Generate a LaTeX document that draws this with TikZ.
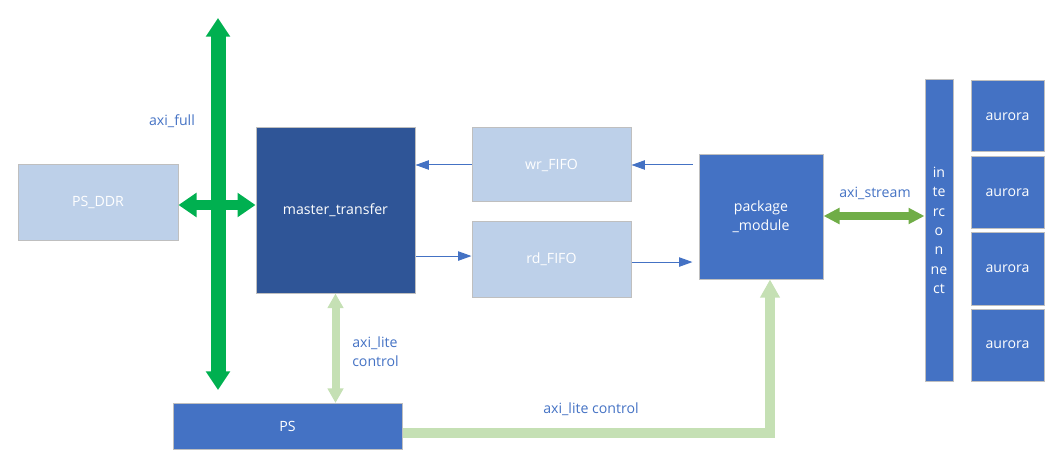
\documentclass[tikz,border=0pt]{standalone}
\usepackage{fontspec}
\setmainfont{Open Sans}
\usetikzlibrary{arrows.meta}
\definecolor{darkblue}{HTML}{2F5597}
\definecolor{midblue}{HTML}{4472C4}
\definecolor{paleblue}{HTML}{BDD0E9}
\definecolor{boxline}{HTML}{BFBFBF}
\definecolor{busgreen}{HTML}{00B050}
\definecolor{litegreen}{HTML}{C5E0B4}
\definecolor{streamgreen}{HTML}{70AD47}

\begin{document}
\begin{tikzpicture}[x=0.75pt, y=-0.75pt,
	blk/.style={draw=boxline, line width=0.75pt, inner sep=0pt, text=white, align=center,
		font=\fontsize{10.6pt}{14.5pt}\selectfont},
	lbl/.style={text=midblue, inner sep=0pt, align=left, font=\fontsize{10.6pt}{14.5pt}\selectfont},
	thin/.style={midblue, line width=0.75pt, -{Triangle[width=7pt, length=10pt]}}]
			\useasboundingbox (0,0) rectangle (1064,474);
			% blocks
			\node[blk, fill=paleblue, minimum width=120pt, minimum height=56.25pt](ddr) at (98,202.5){PS\_DDR};
			\node[blk, fill=darkblue, minimum width=119.25pt, minimum height=123.75pt](mt) at (335.5,210.5){master\_transfer};
			\node[blk, fill=paleblue, minimum width=119.25pt, minimum height=55.5pt](wr) at (551.5,165){wr\_FIFO};
			\node[blk, fill=paleblue, minimum width=119.25pt, minimum height=56.25pt](rd) at (551.5,259.5){rd\_FIFO};
			\node[blk, fill=midblue, minimum width=93pt, minimum height=93pt](pm) at (761,217){package\\\_module};
			\node[blk, fill=midblue, minimum width=21pt, minimum height=225.75pt](ic) at (939,230.5){in\\te\\rc\\o\\n\\ne\\ct};
			\node[blk, fill=midblue, minimum width=54.75pt, minimum height=53.25pt](au1) at (1007.5,116.5){aurora};
			\node[blk, fill=midblue, minimum width=54.75pt, minimum height=54pt](au2) at (1007.5,193){aurora};
			\node[blk, fill=midblue, minimum width=54.75pt, minimum height=54pt](au3) at (1007.5,269){aurora};
			\node[blk, fill=midblue, minimum width=54.75pt, minimum height=54pt](au4) at (1007.5,345){aurora};
			\node[blk, fill=midblue, minimum width=171.75pt, minimum height=34.5pt](ps) at (287.5,426.5){PS};
			% axi_full bus
			\coordinate (bustop) at (218,18);
			\coordinate (busbot) at (218,390);
			\coordinate (bus) at (218,205);
			\draw[busgreen, line width=11.25pt, {Triangle[width=17.5pt, length=14pt]}-{Triangle[width=17.5pt, length=14pt]}] (bustop) -- (busbot);
			\draw[busgreen, line width=7.5pt, {Triangle[width=17.5pt, length=13.5pt]}-{Triangle[width=17.5pt, length=13.5pt]}] (ddr.east |- bus) -- (mt.west |- bus);
			% fifo paths
			\draw[thin] (wr.west) -- (mt.east |- wr.west);
			\draw[thin, shorten <=4.5pt] (pm.west |- wr.east) -- (wr.east);
			\draw[thin] ([yshift=2.6pt]mt.east |- rd.west) -- ([yshift=2.6pt]rd.west);
			\draw[thin, shorten >=4.5pt] ([yshift=-1.9pt]rd.east) -- ([yshift=-1.9pt]pm.west |- rd.east);
			% axi_stream
			\draw[streamgreen, line width=6pt, {Triangle[width=11.5pt, length=12pt]}-{Triangle[width=11.5pt, length=12pt]}] (pm.east |- 0,216) -- (ic.west |- 0,216);
			% axi_lite control
			\draw[litegreen, line width=6pt, {Triangle[width=11.5pt, length=11pt]}-{Triangle[width=11.5pt, length=11pt]}] (mt.south) -- (mt.south |- ps.north);
			\draw[litegreen, line width=7.5pt, -{Triangle[width=14pt, length=13.5pt]}] ([yshift=-4.5pt]ps.east) -| (pm.south -| 770,0);
			% labels
			\node[lbl](lfull) at (172,121){axi\_full};
			\node[lbl](lstream) at (875,193){axi\_stream};
			\node[lbl, anchor=west](llite) at (352,352){axi\_lite\\control};
			\node[lbl](lctrl) at (591,409){axi\_lite control};
			\end{tikzpicture}
\end{document}
